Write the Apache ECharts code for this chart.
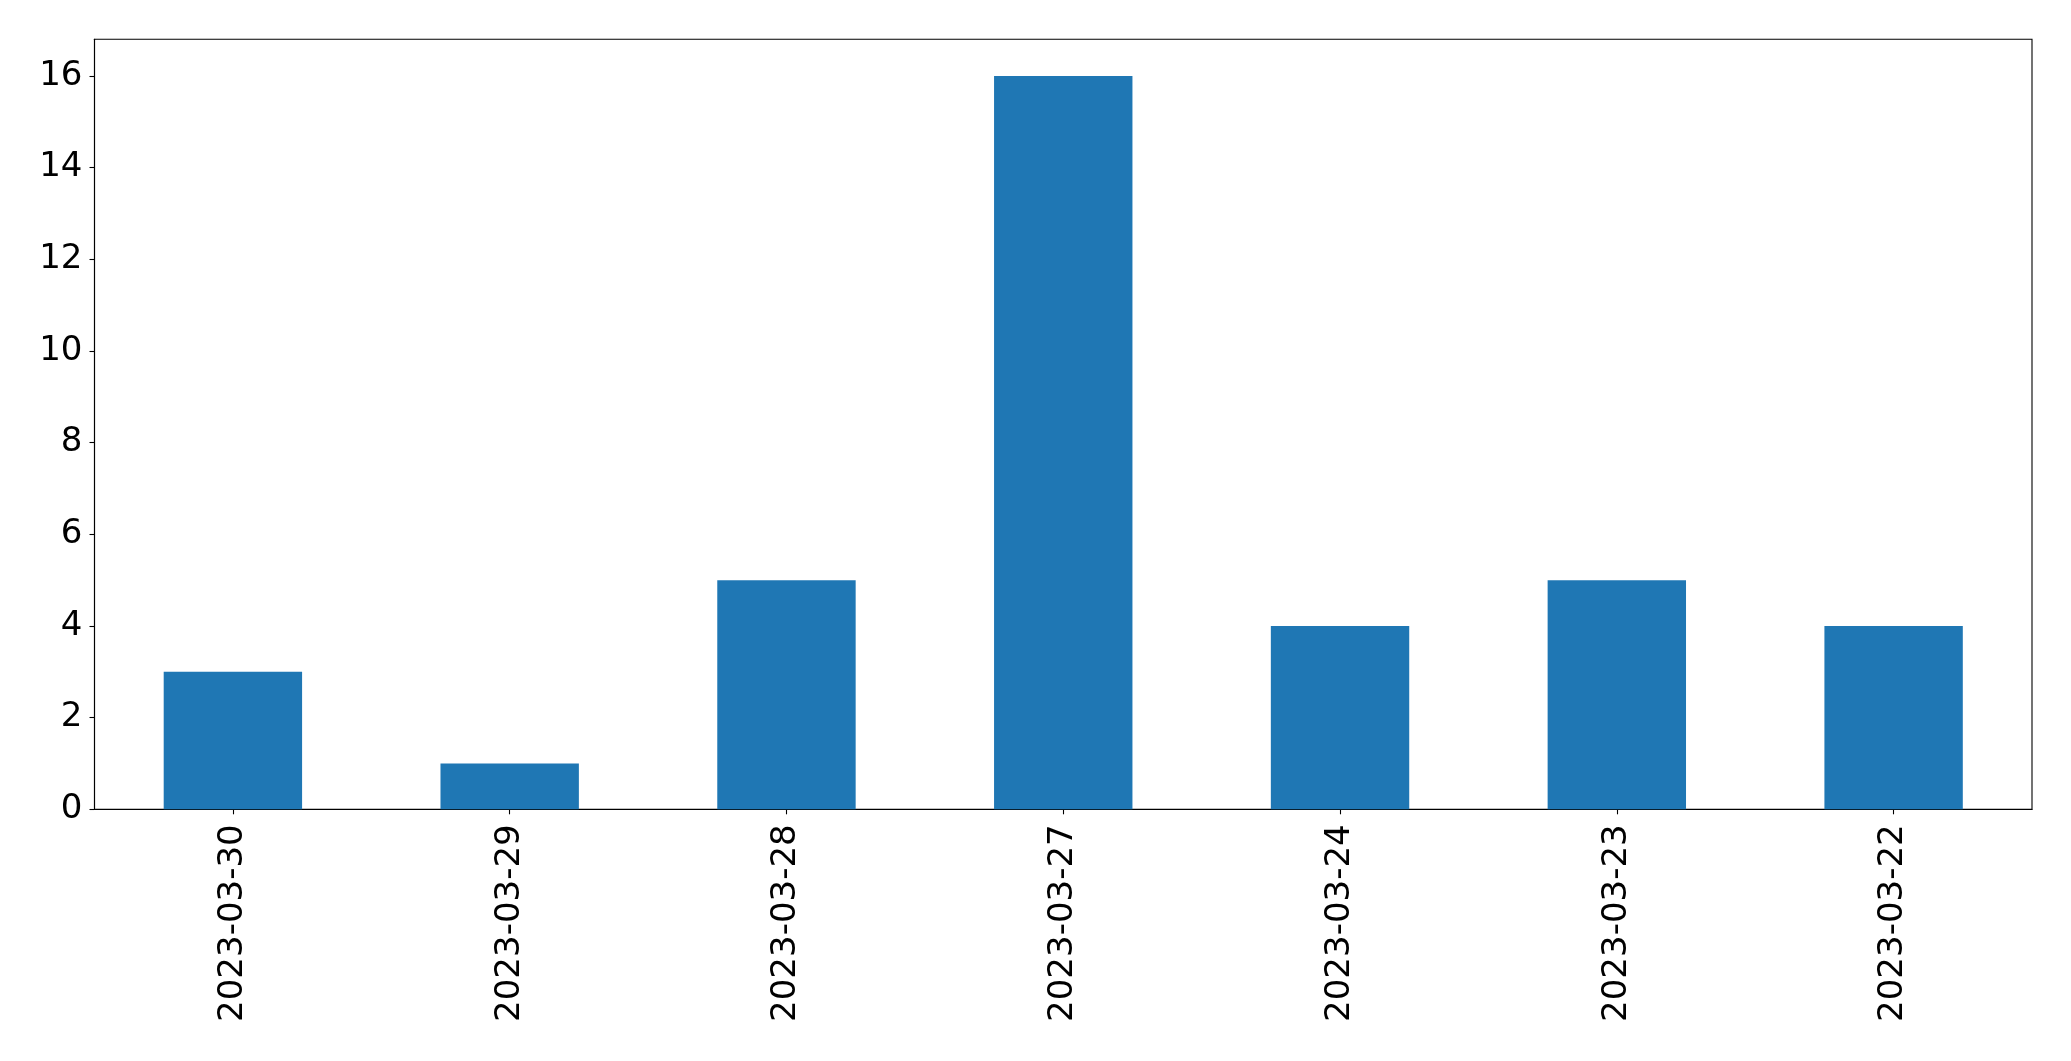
<!DOCTYPE html>
<html>
<head>
<meta charset="utf-8">
<script src="https://cdn.jsdelivr.net/npm/echarts@6/dist/echarts.min.js"></script>
<style>
html,body{margin:0;padding:0;background:#fff;}
#chart{width:2071px;height:1061px;}
</style>
</head>
<body>
<div id="chart"></div>
<script>
const categories = ["2023-03-30","2023-03-29","2023-03-28","2023-03-27","2023-03-24","2023-03-23","2023-03-22"];
const values = [3, 1, 5, 16, 4, 5, 4];
const yTicks = [0, 2, 4, 6, 8, 10, 12, 14, 16];

const chart = echarts.init(document.getElementById('chart'), null, {renderer: 'canvas'});
const font = "DejaVu Sans";
chart.setOption({
  animation: false,
  backgroundColor: '#ffffff',
  grid: {
    left: 94.5, top: 39.3, right: 39, bottom: 251.7,
    show: true, borderColor: '#000', borderWidth: 1.1, backgroundColor: 'transparent'
  },
  xAxis: {
    type: 'category',
    data: categories,
    boundaryGap: true,
    axisLine: {show: true, lineStyle: {color: '#000', width: 1.1}},
    axisTick: {show: true, inside: false, alignWithLabel: true, length: 5, lineStyle: {color: '#000', width: 1.1}},
    axisLabel: {rotate: 90, margin: 15, fontSize: 34, fontFamily: font, color: '#000'},
    splitLine: {show: false}
  },
  yAxis: {
    type: 'value',
    min: 0, max: 16.8, interval: 2,
    axisLine: {show: true, lineStyle: {color: '#000', width: 1.1}},
    axisTick: {show: true, inside: false, length: 5, customValues: yTicks, lineStyle: {color: '#000', width: 1.1}},
    axisLabel: {margin: 12, fontSize: 34, fontFamily: font, color: '#000', customValues: yTicks},
    splitLine: {show: false}
  },
  series: [{
    type: 'bar',
    data: values,
    barWidth: '50%',
    itemStyle: {color: '#1f77b4'}
  }]
});
</script>
</body>
</html>
